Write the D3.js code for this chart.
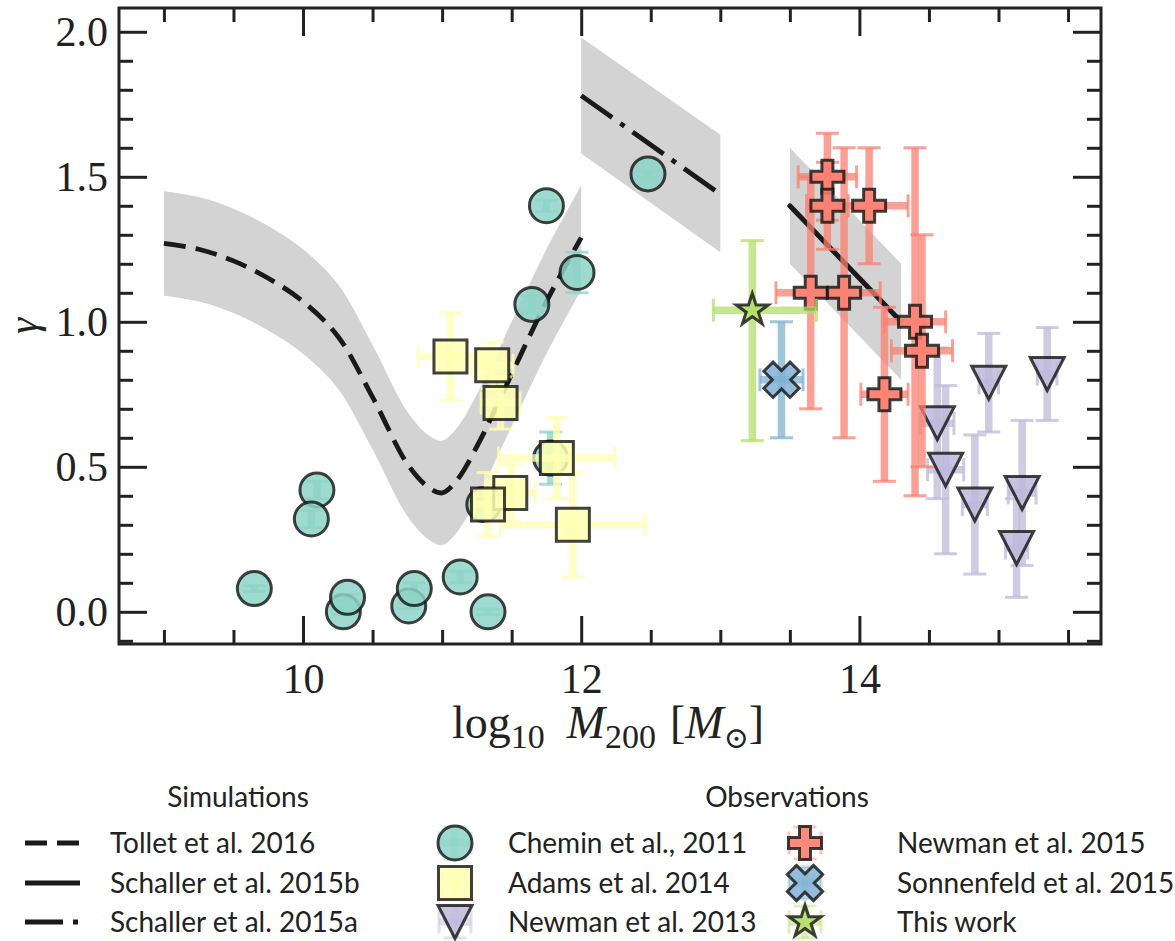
<!DOCTYPE html>
<html>
<head>
<meta charset="utf-8">
<script src="https://cdn.jsdelivr.net/npm/d3@7"></script>
<style>
  body { margin: 0; background: #fff; }
  svg { display: block; }
</style>
</head>
<body>
<svg id="chart" width="1175" height="941"></svg>
<script>
// ---------------- simulations ----------------
// Tollet et al. 2016: inner slope vs halo mass, with scatter band
const tolletM     = [9.0, 9.25, 9.5, 9.75, 10.0, 10.25, 10.5, 10.75, 10.9, 11.0, 11.1, 11.25, 11.5, 11.75, 12.0];
const tolletGamma = [1.27, 1.25, 1.21, 1.15, 1.07, 0.95, 0.74, 0.51, 0.43, 0.41, 0.45, 0.57, 0.82, 1.07, 1.29];
const tolletLow   = [1.09, 1.07, 1.03, 0.97, 0.89, 0.77, 0.56, 0.33, 0.25, 0.23, 0.27, 0.39, 0.64, 0.89, 1.11];
const tolletHigh  = [1.45, 1.43, 1.39, 1.33, 1.25, 1.13, 0.92, 0.69, 0.61, 0.59, 0.63, 0.75, 1.00, 1.25, 1.47];

// Schaller et al. 2015a
const schallerAM     = [12.0, 13.0];
const schallerAGamma = [1.78, 1.44];
const schallerALow   = [1.58, 1.24];
const schallerAHigh  = [1.98, 1.645];

// Schaller et al. 2015b
const schallerBM     = [13.5, 14.3];
const schallerBGamma = [1.40, 1.00];
const schallerBLow   = [1.20, 0.80];
const schallerBHigh  = [1.60, 1.20];

// ---------------- observations ----------------
// Chemin et al. 2011
const cheminM        = [9.65, 10.10, 10.06, 10.29, 10.32, 10.76, 10.80, 11.13, 11.33, 11.30, 11.78, 11.75, 12.48, 11.97, 11.645];
const cheminGamma    = [0.08, 0.42, 0.32, 0.00, 0.05, 0.02, 0.08, 0.12, 0.00, 0.37, 0.53, 1.40, 1.51, 1.17, 1.06];
const cheminGammaErr = [0.01, 0.03, 0.03, 0.01, 0.01, 0.01, 0.02, 0.02, 0.01, 0.02, 0.09, 0.02, 0.01, 0.07, 0.03];

// Adams et al. 2014
const adamsM        = [11.06, 11.36, 11.42, 11.825, 11.49, 11.33, 11.94];
const adamsGamma    = [0.88, 0.85, 0.72, 0.53, 0.41, 0.37, 0.30];
const adamsMErr     = [0.23, 0.15, 0.14, 0.42, 0.18, 0.10, 0.52];
const adamsGammaErr = [0.15, 0.08, 0.09, 0.14, 0.10, 0.11, 0.18];

// Newman et al. 2013
const newman13M        = [14.56, 14.62, 14.83, 14.93, 15.13, 15.17, 15.35];
const newman13Gamma    = [0.65, 0.49, 0.37, 0.79, 0.22, 0.41, 0.82];
const newman13MErr     = [0.12, 0.13, 0.09, 0.07, 0.08, 0.10, 0.07];
const newman13GammaErr = [0.26, 0.29, 0.24, 0.17, 0.17, 0.25, 0.16];

// Newman et al. 2015
const newman15M        = [13.77, 13.77, 14.07, 13.65, 13.89, 14.40, 14.45, 14.18];
const newman15Gamma    = [1.50, 1.40, 1.40, 1.10, 1.10, 1.00, 0.90, 0.75];
const newman15MErr     = [0.21, 0.15, 0.28, 0.25, 0.26, 0.22, 0.22, 0.17];
const newman15GammaErr = [0.15, 0.15, 0.20, 0.40, 0.50, 0.60, 0.40, 0.30];

// Sonnenfeld et al. 2015
const sonnenfeldM        = [13.44];
const sonnenfeldGamma    = [0.80];
const sonnenfeldMErr     = [0.155];
const sonnenfeldGammaErr = [0.20];

// This work (asymmetric errors: [lower, upper])
const thisWorkM        = [13.23];
const thisWorkGamma    = [1.04];
const thisWorkMErr     = [[0.28, 0.46]];
const thisWorkGammaErr = [[0.45, 0.24]];

// ---------------- axes ----------------
const xMajorTicks = [10, 12, 14];
const yMajorTicks = [0.0, 0.5, 1.0, 1.5, 2.0];
const xLabelMain = "log";
const yLabelText = "γ";

const legendSimTitle = "Simulations";
const legendObsTitle = "Observations";
const simNames = ["Tollet et al. 2016", "Schaller et al. 2015b", "Schaller et al. 2015a"];
const obsNames = ["Chemin et al., 2011", "Adams et al. 2014", "Newman et al. 2013",
                  "Newman et al. 2015", "Sonnenfeld et al. 2015", "This work"];

// ---------------- setup ----------------
const frame = { left: 119, right: 1101, top: 8, bottom: 644 };
const x = d3.scaleLinear().domain([8.677, 15.737]).range([frame.left, frame.right]);
const y = d3.scaleLinear().domain([-0.111, 2.082]).range([frame.bottom, frame.top]);

const ink = "#222";
const set3 = d3.schemeSet3;
const colTeal = set3[0], colYellow = set3[1], colLav = set3[2], colRed = set3[3], colBlue = set3[4], colGreen = set3[6];
const bandGrey = "#d3d3d3";
const serif = "'Liberation Serif', 'DejaVu Serif', serif";
const sans = "Lato, 'Open Sans', sans-serif";

const svg = d3.select("#chart");
svg.append("rect").attr("width", 1175).attr("height", 941).attr("fill", "#fff");

svg.append("clipPath").attr("id", "plotClip")
  .append("rect").attr("x", frame.left).attr("y", frame.top)
  .attr("width", frame.right - frame.left).attr("height", frame.bottom - frame.top);

const plotG = svg.append("g").attr("clip-path", "url(#plotClip)");

const zipCurve = (ms, gs, lo, hi) => ms.map((m, i) => ({ m, g: gs[i], lo: lo[i], hi: hi[i] }));
const tollet = zipCurve(tolletM, tolletGamma, tolletLow, tolletHigh);
const schA = zipCurve(schallerAM, schallerAGamma, schallerALow, schallerAHigh);
const schB = zipCurve(schallerBM, schallerBGamma, schallerBLow, schallerBHigh);

// shaded bands
const bandSmooth = d3.area().x(d => x(d.m)).y0(d => y(d.lo)).y1(d => y(d.hi)).curve(d3.curveCatmullRom);
const bandStraight = d3.area().x(d => x(d.m)).y0(d => y(d.lo)).y1(d => y(d.hi));
plotG.append("path").attr("d", bandSmooth(tollet)).attr("fill", bandGrey);
plotG.append("path").attr("d", bandStraight(schA)).attr("fill", bandGrey);
plotG.append("path").attr("d", bandStraight(schB)).attr("fill", bandGrey);

// simulation lines
const lineSmooth = d3.line().x(d => x(d.m)).y(d => y(d.g)).curve(d3.curveCatmullRom);
const lineStraight = d3.line().x(d => x(d.m)).y(d => y(d.g));
const simStyles = [
  { dash: "22,10", w: 4.8 },
  { dash: null, w: 5 },
  { dash: "38,10,5,10", w: 4.8 }
];
plotG.append("path").attr("d", lineSmooth(tollet)).attr("fill", "none")
  .attr("stroke", "#1a1a1a").attr("stroke-width", simStyles[0].w).attr("stroke-dasharray", simStyles[0].dash);
plotG.append("path").attr("d", lineStraight(schA)).attr("fill", "none")
  .attr("stroke", "#1a1a1a").attr("stroke-width", simStyles[2].w).attr("stroke-dasharray", simStyles[2].dash);
plotG.append("path").attr("d", lineStraight(schB)).attr("fill", "none")
  .attr("stroke", "#1a1a1a").attr("stroke-width", simStyles[1].w).attr("stroke-linecap", "round");

// ---------------- markers ----------------
function starPath(R) {
  const r = R * 0.381966, pts = [];
  for (let i = 0; i < 10; i++) {
    const a = -Math.PI / 2 + i * Math.PI / 5;
    const rad = i % 2 === 0 ? R : r;
    pts.push([rad * Math.cos(a), rad * Math.sin(a)]);
  }
  return "M" + pts.map(p => p[0].toFixed(2) + "," + p[1].toFixed(2)).join("L") + "Z";
}
function plusPath(a, t) {
  return `M${-t},${-a}H${t}V${-t}H${a}V${t}H${t}V${a}H${-t}V${t}H${-a}V${-t}H${-t}Z`;
}
const shapes = {
  circle: { d: d3.symbol(d3.symbolCircle, Math.PI * 17 * 17)(), rot: 0 },
  square: { d: "M-16.5,-16.5H16.5V16.5H-16.5Z", rot: 0 },
  triDown: { d: "M-17,-16.5L17,-16.5L0,16.5Z", rot: 0 },
  plus: { d: plusPath(16.5, 5.5), rot: 0 },
  cross: { d: plusPath(18.5, 6.5), rot: 45 },
  star: { d: starPath(16.8), rot: 0 }
};

function buildSeries(ms, gs, xe, ye) {
  const pair = e => e == null ? null : (Array.isArray(e) ? e : [e, e]);
  return ms.map((m, i) => ({ m, g: gs[i], xe: xe ? pair(xe[i]) : null, ye: ye ? pair(ye[i]) : null }));
}

const series = [
  { name: obsNames[0], data: buildSeries(cheminM, cheminGamma, null, cheminGammaErr), color: colTeal, shape: "circle" },
  { name: obsNames[1], data: buildSeries(adamsM, adamsGamma, adamsMErr, adamsGammaErr), color: colYellow, shape: "square" },
  { name: obsNames[2], data: buildSeries(newman13M, newman13Gamma, newman13MErr, newman13GammaErr), color: colLav, shape: "triDown" },
  { name: obsNames[3], data: buildSeries(newman15M, newman15Gamma, newman15MErr, newman15GammaErr), color: colRed, shape: "plus" },
  { name: obsNames[4], data: buildSeries(sonnenfeldM, sonnenfeldGamma, sonnenfeldMErr, sonnenfeldGammaErr), color: colBlue, shape: "cross" },
  { name: obsNames[5], data: buildSeries(thisWorkM, thisWorkGamma, thisWorkMErr, thisWorkGammaErr), color: colGreen, shape: "star" }
];

const errW = 7.5, capHalf = 11.5, capW = 3;
function seg(g, x1, y1, x2, y2, color, w, alpha) {
  g.append("line").attr("x1", x1).attr("y1", y1).attr("x2", x2).attr("y2", y2)
    .attr("stroke", color).attr("stroke-width", w).attr("stroke-opacity", alpha);
}
function errorBar(g, cx, cy, color, vLo, vHi, hLo, hHi, alpha = 0.75) {
  if (vLo != null) {
    seg(g, cx, vLo, cx, vHi, color, errW, alpha);
    seg(g, cx - capHalf, vLo, cx + capHalf, vLo, color, capW, alpha);
    seg(g, cx - capHalf, vHi, cx + capHalf, vHi, color, capW, alpha);
  }
  if (hLo != null) {
    seg(g, hLo, cy, hHi, cy, color, errW, alpha);
    seg(g, hLo, cy - capHalf, hLo, cy + capHalf, color, capW, alpha);
    seg(g, hHi, cy - capHalf, hHi, cy + capHalf, color, capW, alpha);
  }
}
function marker(g, cx, cy, s) {
  const sh = shapes[s.shape];
  g.append("path").attr("d", sh.d)
    .attr("transform", `translate(${cx},${cy}) rotate(${sh.rot})`)
    .attr("fill", s.color).attr("fill-opacity", 0.85)
    .attr("stroke", "#111").attr("stroke-opacity", 0.8).attr("stroke-width", 3)
    .attr("stroke-linejoin", "miter");
}

series.forEach(s => {
  const g = plotG.append("g");
  s.data.forEach(d => {
    const cx = x(d.m), cy = y(d.g);
    errorBar(g, cx, cy, s.color,
      d.ye ? y(d.g - d.ye[0]) : null, d.ye ? y(d.g + d.ye[1]) : null,
      d.xe ? x(d.m - d.xe[0]) : null, d.xe ? x(d.m + d.xe[1]) : null);
  });
  s.data.forEach(d => marker(g, x(d.m), y(d.g), s));
});

// ---------------- axes ----------------
const yMinor = d3.range(-1, 21).map(i => i / 10).filter(v => !yMajorTicks.some(t => Math.abs(t - v) < 1e-9));
const xMinor = d3.range(18, 32).map(i => i / 2).filter(v => !xMajorTicks.includes(v));

function styleAxis(g) {
  g.select(".domain").remove();
  g.selectAll(".tick line").attr("stroke", ink).attr("stroke-width", 3);
  g.selectAll(".tick text").attr("fill", ink).style("font-family", serif).style("font-size", "42px");
}
svg.append("g").attr("transform", `translate(0,${frame.bottom})`)
  .call(d3.axisBottom(x).tickValues(xMajorTicks).tickSize(-28).tickPadding(19).tickFormat(d3.format("d"))).call(styleAxis);
svg.append("g").attr("transform", `translate(0,${frame.bottom})`)
  .call(d3.axisBottom(x).tickValues(xMinor).tickSize(-14).tickFormat("")).call(styleAxis);
svg.append("g").attr("transform", `translate(0,${frame.top})`)
  .call(d3.axisTop(x).tickValues(xMajorTicks).tickSize(-28).tickFormat("")).call(styleAxis);
svg.append("g").attr("transform", `translate(0,${frame.top})`)
  .call(d3.axisTop(x).tickValues(xMinor).tickSize(-14).tickFormat("")).call(styleAxis);

svg.append("g").attr("transform", `translate(${frame.left},0)`)
  .call(d3.axisLeft(y).tickValues(yMajorTicks).tickSize(-28).tickPadding(11).tickFormat(d3.format(".1f"))).call(styleAxis);
svg.append("g").attr("transform", `translate(${frame.left},0)`)
  .call(d3.axisLeft(y).tickValues(yMinor).tickSize(-14).tickFormat("")).call(styleAxis);
svg.append("g").attr("transform", `translate(${frame.right},0)`)
  .call(d3.axisRight(y).tickValues(yMajorTicks).tickSize(-28).tickFormat("")).call(styleAxis);
svg.append("g").attr("transform", `translate(${frame.right},0)`)
  .call(d3.axisRight(y).tickValues(yMinor).tickSize(-14).tickFormat("")).call(styleAxis);

svg.append("rect").attr("x", frame.left).attr("y", frame.top)
  .attr("width", frame.right - frame.left).attr("height", frame.bottom - frame.top)
  .attr("fill", "none").attr("stroke", ink).attr("stroke-width", 3);

// axis labels
const xl = svg.append("text").attr("x", (frame.left + frame.right) / 2 - 2).attr("y", 738)
  .attr("text-anchor", "middle").attr("fill", ink)
  .style("font-family", serif).style("font-size", "46px");
xl.append("tspan").text(xLabelMain);
xl.append("tspan").attr("dy", 10).style("font-size", "34px").text("10");
xl.append("tspan").attr("dy", -10).attr("dx", 22).style("font-style", "italic").text("M");
xl.append("tspan").attr("dy", 10).style("font-size", "34px").text("200");
xl.append("tspan").attr("dy", -10).attr("dx", 14).text("[");
xl.append("tspan").style("font-style", "italic").text("M");
xl.append("tspan").attr("dy", 10).style("font-size", "30px").text("⊙");
xl.append("tspan").attr("dy", -10).text("]");

svg.append("text").attr("transform", `translate(37,${(frame.top + frame.bottom) / 2}) rotate(-90)`)
  .attr("text-anchor", "middle").attr("fill", ink)
  .style("font-family", serif).style("font-style", "italic").style("font-size", "41px")
  .text(yLabelText);

// ---------------- legend ----------------
const legendFont = "28px";
const rowY = [843, 883, 922];
const leg = svg.append("g").style("font-family", sans).style("font-size", legendFont).attr("fill", ink);
leg.append("text").attr("x", 238).attr("y", 797).attr("dy", "0.35em").attr("text-anchor", "middle").text(legendSimTitle);
leg.append("text").attr("x", 787).attr("y", 797).attr("dy", "0.35em").attr("text-anchor", "middle").text(legendObsTitle);

simNames.forEach((name, i) => {
  const st = simStyles[i];
  leg.append("line").attr("x1", 25).attr("x2", 80).attr("y1", rowY[i]).attr("y2", rowY[i])
    .attr("stroke", "#1a1a1a").attr("stroke-width", st.w).attr("stroke-dasharray", st.dash);
  leg.append("text").attr("x", 110).attr("y", rowY[i]).attr("dy", "0.35em").text(name);
});

series.forEach((s, i) => {
  const col = Math.floor(i / 3), row = i % 3;
  const cx = col === 0 ? 455 : 805, cy = rowY[row];
  const g = leg.append("g");
  errorBar(g, cx, cy, s.color, cy - 16, cy + 16, cx - 16, cx + 16, 0.45);
  marker(g, cx, cy, s);
  leg.append("text").attr("x", col === 0 ? 508 : 897).attr("y", cy).attr("dy", "0.35em").text(s.name);
});
</script>
</body>
</html>
